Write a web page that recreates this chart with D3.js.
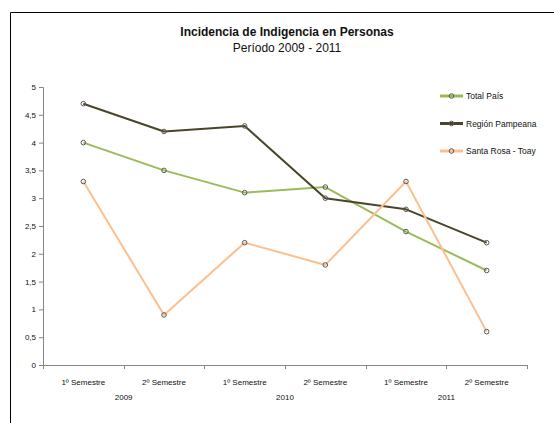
<!DOCTYPE html>
<html><head><meta charset="utf-8">
<script src="https://cdn.jsdelivr.net/npm/d3@7"></script>
<style>body{margin:0;background:#fff}svg{display:block;font-family:"Liberation Sans",Arial,sans-serif}</style>
</head><body><svg id="c" width="554" height="423"></svg>
<script>
const categories = ["1º Semestre","2º Semestre","1º Semestre","2º Semestre","1º Semestre","2º Semestre"];
const years = ["2009","2010","2011"];
const totalPais = [4.0, 3.5, 3.1, 3.2, 2.4, 1.7];
const regionPampeana = [4.7, 4.2, 4.3, 3.0, 2.8, 2.2];
const santaRosa = [3.3, 0.9, 2.2, 1.8, 3.3, 0.6];
const seriesNames = ["Total País","Región Pampeana","Santa Rosa - Toay"];
const yTicks = [0,0.5,1,1.5,2,2.5,3,3.5,4,4.5,5];

(function(){
const series = [
  {name: seriesNames[0], values: totalPais, color: "#9bbb59", width: 2},
  {name: seriesNames[1], values: regionPampeana, color: "#4a452a", width: 2},
  {name: seriesNames[2], values: santaRosa, color: "#fac08f", width: 2}
];

const svg = d3.select("#c");
svg.append("path").attr("d","M10.5,423 L10.5,12.5 L554,12.5").attr("fill","none").attr("stroke","#000").attr("stroke-width",1);

const pl = 43, pr = 527, pt = 87, pb = 365;
const x = d3.scaleBand().domain(d3.range(categories.length)).range([pl, pr]).padding(0);
const y = d3.scaleLinear().domain([0,5]).range([pb, pt]);

svg.append("text").attr("x",287).attr("y",36).attr("text-anchor","middle")
  .attr("font-size","12px").attr("font-weight","bold").attr("fill","#111").text("Incidencia de Indigencia en Personas");
svg.append("text").attr("x",287).attr("y",52).attr("text-anchor","middle")
  .attr("font-size","12px").attr("fill","#111").text("Período 2009 - 2011");

const ya = svg.append("g").attr("transform",`translate(${pl},0)`)
  .call(d3.axisLeft(y).tickValues(yTicks).tickSize(4).tickPadding(3).tickFormat(d => String(d).replace(".",",")));
ya.select(".domain").attr("stroke","#868686").attr("d",`M-4,${pt+0.5}H0.5V${pb+0.5}H-4`);
ya.selectAll(".tick line").attr("stroke","#868686");
ya.selectAll(".tick text").attr("font-size","8px").attr("fill","#111").attr("font-family","Liberation Sans, Arial, sans-serif");

const xa = svg.append("g").attr("transform",`translate(0,${pb})`);
xa.append("line").attr("x1",pl).attr("x2",pr).attr("y1",0.5).attr("y2",0.5).attr("stroke","#868686");
const tickPos = d3.range(categories.length+1).map(i => i < categories.length ? x(i) : x(categories.length-1)+x.bandwidth());
xa.selectAll("line.t").data(tickPos).join("line").attr("class","t")
  .attr("x1",d=>Math.round(d)+0.5).attr("x2",d=>Math.round(d)+0.5).attr("y1",0).attr("y2",4).attr("stroke","#868686");
xa.selectAll("text.cat").data(categories).join("text").attr("class","cat")
  .attr("x",(d,i)=>x(i)+x.bandwidth()/2).attr("y",20).attr("text-anchor","middle")
  .attr("font-size","8px").attr("fill","#111").text(d=>d);
xa.selectAll("text.yr").data(years).join("text").attr("class","yr")
  .attr("x",(d,i)=>x(i*2)+x.bandwidth()).attr("y",35).attr("text-anchor","middle")
  .attr("font-size","8px").attr("fill","#111").text(d=>d);

const line = d3.line().x((d,i)=>x(i)+x.bandwidth()/2).y(d=>y(d));
series.forEach(s => {
  svg.append("path").datum(s.values).attr("d",line).attr("fill","none")
    .attr("stroke",s.color).attr("stroke-width",s.width).attr("stroke-linejoin","round");
});
series.forEach(s => {
  svg.append("g").selectAll("circle").data(s.values).join("circle")
    .attr("cx",(d,i)=>x(i)+x.bandwidth()/2).attr("cy",d=>y(d)).attr("r",2.3)
    .attr("fill","none").attr("stroke","#5a5a5a").attr("stroke-width",1);
});

const lg = svg.append("g");
series.forEach((s,i) => {
  const ly = 96 + i*27.5;
  lg.append("line").attr("x1",440).attr("x2",463).attr("y1",ly).attr("y2",ly)
    .attr("stroke",s.color).attr("stroke-width",3);
  lg.append("circle").attr("cx",451.5).attr("cy",ly).attr("r",2.3).attr("fill","none").attr("stroke","#5a5a5a").attr("stroke-width",1);
  lg.append("text").attr("x",466).attr("y",ly+3).attr("font-size","8.5px").attr("fill","#111").text(s.name);
});
})();
</script></body></html>
